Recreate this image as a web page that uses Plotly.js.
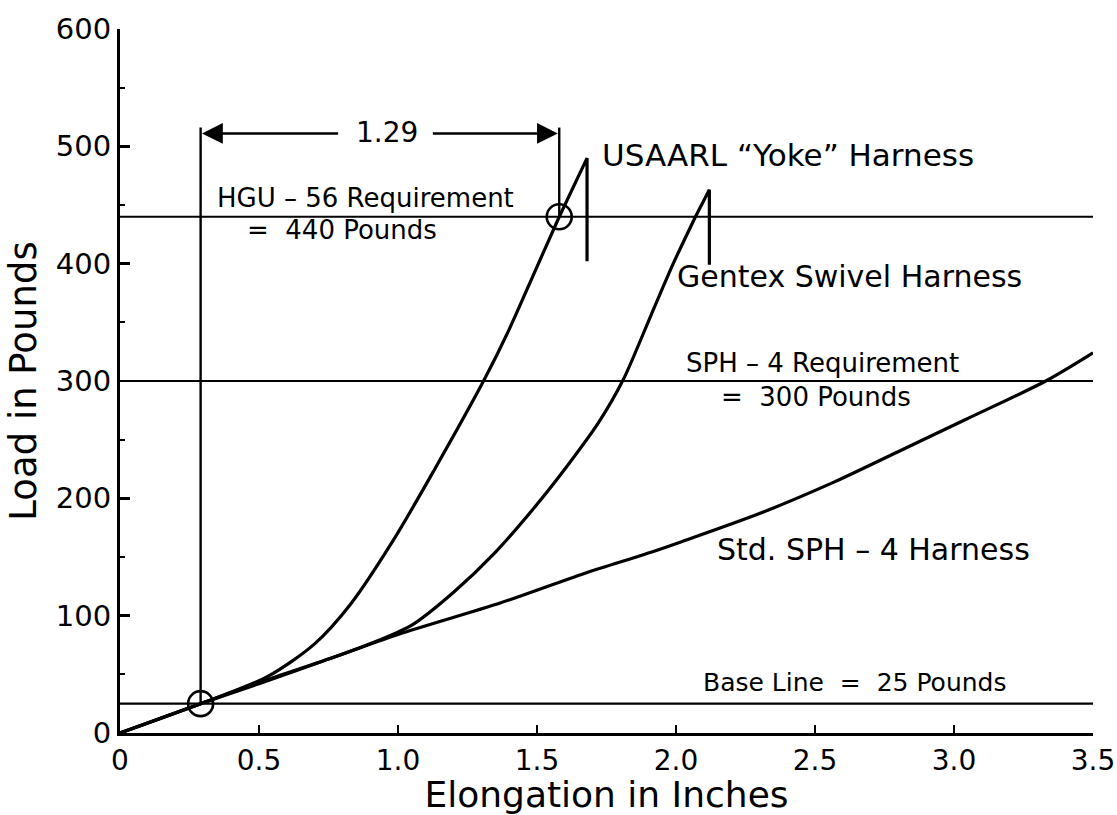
<!DOCTYPE html>
<html>
<head>
<meta charset="utf-8">
<script src="https://cdn.plot.ly/plotly-3.0.1.min.js"></script>
<style>
html,body{margin:0;padding:0;background:#fff;}
#chart{width:1117px;height:815px;}
</style>
</head>
<body>
<div id="chart"></div>
<script>
// ---- data ----
const usaarlX = [0, 0.29, 0.53, 0.70, 0.83, 0.985, 1.13, 1.31, 1.40, 1.49, 1.58, 1.68, 1.68];
const usaarlY = [0, 25, 48, 76, 110, 165, 224, 301, 344, 392, 440, 490, 402];

const gentexX = [0, 0.29, 0.5, 0.75, 0.92, 1.05, 1.2, 1.35, 1.49, 1.61, 1.72, 1.81, 1.91, 1.99, 2.07, 2.12, 2.12];
const gentexY = [0, 25, 43, 63, 78, 92, 120, 154, 192, 228, 264, 301, 356, 400, 440, 463, 399];

const stdX = [0, 0.29, 0.5, 0.75, 1.0, 1.37, 1.67, 1.91, 2.02, 2.3, 2.57, 2.81, 3.04, 3.33, 3.5];
const stdY = [0, 25, 42, 63, 84, 111, 136, 154, 163, 187, 214, 241, 267, 300, 324];

const requirementLoads = [440, 300, 25];          // HGU-56, SPH-4, base line
const dimensionX = [0.29, 1.58];                  // ends of the 1.29 in. dimension
const dimensionBottoms = [25, 440];
const dimensionTop = 516;
const dimensionArrowY = 511;
const dimensionLabel = "1.29";
const circleX = [0.29, 1.58];
const circleY = [25, 440];

const xTickVals = [0, 0.5, 1.0, 1.5, 2.0, 2.5, 3.0, 3.5];
const xTickText = ["0", "0.5", "1.0", "1.5", "2.0", "2.5", "3.0", "3.5"];
const yTickVals = [0, 100, 200, 300, 400, 500, 600];
const yTickText = ["0", "100", "200", "300", "400", "500", "600"];

const FONT = "DejaVu Sans, Arial, sans-serif";
const BLACK = "#000";

// how many points of each curve are smooth before the failure spike
const usaarlSmooth = 11;
const gentexSmooth = 15;

const curveLine = {color: BLACK, width: 3.2, shape: 'spline', smoothing: 0.8};
const spikeLine = {color: BLACK, width: 3.2, shape: 'linear'};

const traces = [
  {x: stdX, y: stdY, mode: 'lines', line: curveLine, name: 'Std. SPH-4 Harness'},
  {x: gentexX.slice(0, gentexSmooth), y: gentexY.slice(0, gentexSmooth), mode: 'lines', line: curveLine, name: 'Gentex Swivel Harness'},
  {x: gentexX.slice(gentexSmooth - 1), y: gentexY.slice(gentexSmooth - 1), mode: 'lines', line: spikeLine, name: 'Gentex spike'},
  {x: usaarlX.slice(0, usaarlSmooth), y: usaarlY.slice(0, usaarlSmooth), mode: 'lines', line: curveLine, name: 'USAARL Yoke Harness'},
  {x: usaarlX.slice(usaarlSmooth - 1), y: usaarlY.slice(usaarlSmooth - 1), mode: 'lines', line: spikeLine, name: 'USAARL spike'},
  {x: circleX, y: circleY, mode: 'markers', name: 'points',
   marker: {symbol: 'circle-open', size: 25, color: BLACK, line: {color: BLACK, width: 2.6}}}
];

const shapes = [];
requirementLoads.forEach(v => shapes.push({
  type: 'line', xref: 'x', yref: 'y', x0: 0, x1: 3.5, y0: v, y1: v,
  line: {color: BLACK, width: 2.2}
}));
dimensionX.forEach((xv, i) => shapes.push({
  type: 'line', xref: 'x', yref: 'y', x0: xv, x1: xv, y0: dimensionBottoms[i], y1: dimensionTop,
  line: {color: BLACK, width: 2.4}
}));

function txt(x, y, text, size) {
  return {x: x, y: y, xref: 'x', yref: 'y', text: text, showarrow: false,
          font: {family: FONT, size: size, color: BLACK}, xanchor: 'center', yanchor: 'middle'};
}

const annotations = [
  txt(0.959, dimensionArrowY + 1, dimensionLabel, 28),
  txt(0.883, 456, "HGU – 56 Requirement", 26),
  txt(0.797, 429, "=  440 Pounds", 26),
  txt(2.404, 493, "USAARL “Yoke” Harness", 31),
  txt(2.624, 389, "Gentex Swivel Harness", 30),
  txt(2.527, 315, "SPH – 4 Requirement", 26),
  txt(2.502, 286, "=  300 Pounds", 26),
  txt(2.711, 156, "Std. SPH – 4 Harness", 30),
  txt(2.642, 43, "Base Line  =  25 Pounds", 25),
  {x: dimensionX[0] + 0.005, y: dimensionArrowY, ax: 0.79, ay: dimensionArrowY, xref: 'x', yref: 'y',
   axref: 'x', ayref: 'y', text: '', showarrow: true, arrowhead: 2, arrowsize: 1.6, arrowwidth: 2.6,
   arrowcolor: BLACK, standoff: 0},
  {x: dimensionX[1] - 0.005, y: dimensionArrowY, ax: 1.12, ay: dimensionArrowY, xref: 'x', yref: 'y',
   axref: 'x', ayref: 'y', text: '', showarrow: true, arrowhead: 2, arrowsize: 1.6, arrowwidth: 2.6,
   arrowcolor: BLACK, standoff: 0}
];

const layout = {
  width: 1117, height: 815,
  margin: {l: 120, r: 24, t: 29, b: 82, pad: 0},
  paper_bgcolor: '#fff', plot_bgcolor: '#fff',
  showlegend: false,
  font: {family: FONT, color: BLACK},
  xaxis: {
    range: [0, 3.5], tickvals: xTickVals, ticktext: xTickText,
    showgrid: false, zeroline: false, showline: true, linecolor: BLACK, linewidth: 3,
    ticks: 'inside', ticklen: 8, tickwidth: 2.5, tickcolor: BLACK,
    tickfont: {family: FONT, size: 28, color: BLACK},
    title: {text: 'Elongation in Inches', font: {family: FONT, size: 36, color: BLACK}, standoff: 2},
    automargin: false, fixedrange: true
  },
  yaxis: {
    range: [0, 600], tickvals: yTickVals, ticktext: yTickText,
    showgrid: false, zeroline: false, showline: true, linecolor: BLACK, linewidth: 3,
    ticks: 'inside', ticklen: 10, tickwidth: 2.5, tickcolor: BLACK,
    minor: {ticks: 'inside', ticklen: 5, tickwidth: 2, tickcolor: BLACK, dtick: 50, showgrid: false},
    tickfont: {family: FONT, size: 29, color: BLACK},
    title: {text: 'Load in Pounds', font: {family: FONT, size: 37, color: BLACK}, standoff: 8},
    automargin: false, fixedrange: true
  },
  shapes: shapes,
  annotations: annotations
};

Plotly.newPlot('chart', traces, layout, {staticPlot: true, displayModeBar: false});
</script>
</body>
</html>
